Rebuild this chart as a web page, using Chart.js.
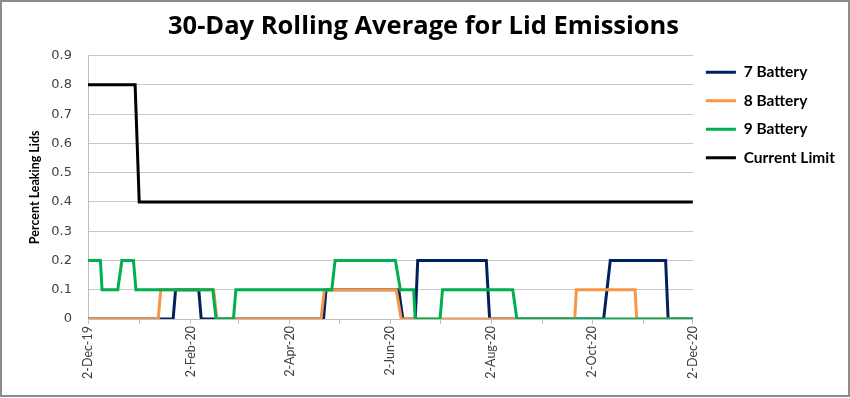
<!DOCTYPE html>
<html>
<head>
<meta charset="utf-8">
<title>30-Day Rolling Average for Lid Emissions</title>
<script src="https://cdn.jsdelivr.net/npm/chart.js@4.4.1/dist/chart.umd.min.js"></script>
<style>
    body { margin: 0; background: #ffffff; }
    .chart-frame {
        position: absolute;
        left: 0;
        top: 0;
        width: 846px;
        height: 393px;
        border: 2px solid #8c8c8c;
        background: #ffffff;
    }
    canvas { display: block; }
</style>
</head>
<body>
<div class="chart-frame">
    <canvas id="lidChart" width="846" height="393"></canvas>
</div>
<script>
// Days counted from 2-Dec-19 (x axis), values are fraction of leaking lids

// Tick positions: first of each month step, labels every other month
const tickDays = [0, 31, 62, 91, 122, 152, 183, 213, 244, 275, 305, 336, 366];
const tickLabels = ['2-Dec-19', '', '2-Feb-20', '', '2-Apr-20', '', '2-Jun-20', '', '2-Aug-20', '', '2-Oct-20', '', '2-Dec-20'];

// 7 Battery
const battery7Days = [0, 51.5, 53, 67, 68.5, 142.5, 144, 188, 190.5, 198, 199.5, 241, 243, 312, 316, 349.5, 351, 366];
const battery7Values = [0, 0, 0.1, 0.1, 0, 0, 0.1, 0.1, 0, 0, 0.2, 0.2, 0, 0, 0.2, 0.2, 0, 0];

// 8 Battery
const battery8Days = [0, 42.5, 44, 76, 78, 141, 143, 186.5, 189.5, 294.5, 295.5, 331, 332, 366];
const battery8Values = [0, 0, 0.1, 0.1, 0, 0, 0.1, 0.1, 0, 0, 0.1, 0.1, 0, 0];

// 9 Battery
const battery9Days = [0, 7.5, 8.5, 18, 20.5, 27.5, 29, 75.5, 77.5, 88, 89.5, 147.5, 149.5, 186, 189, 197, 198, 213, 214.5, 257, 259.5, 366];
const battery9Values = [0.2, 0.2, 0.1, 0.1, 0.2, 0.2, 0.1, 0.1, 0, 0, 0.1, 0.1, 0.2, 0.2, 0.1, 0.1, 0, 0, 0.1, 0.1, 0, 0];

// Current Limit
const limitDays = [0, 28.5, 31, 366];
const limitValues = [0.8, 0.8, 0.4, 0.4];

// Y axis ticks
const yMin = 0;
const yMax = 0.9;
const yStep = 0.1;

document.addEventListener('DOMContentLoaded', function() {
    initializeLidChart();
});

// Pair up day and value arrays into points for the line datasets
function toPoints(days, values) {
    return days.map(function(day, i) {
        return { x: day, y: values[i] };
    });
}

// Small plugin to lift the legend so it sits level with the top rows
const legendNudge = {
    id: 'legendNudge',
    afterLayout: function(chart) {
        if (chart.legend) {
            chart.legend.top -= 4;
        }
    }
};

function initializeLidChart() {
    const ctx = document.getElementById('lidChart');
    if (!ctx) {
        return;
    }

    const lineDefaults = {
        borderWidth: 3,
        pointRadius: 0,
        pointHoverRadius: 0,
        tension: 0,
        fill: false
    };

    const lidData = {
        datasets: [
            Object.assign({
                label: '7 Battery',
                data: toPoints(battery7Days, battery7Values),
                borderColor: '#002060',
                backgroundColor: '#002060',
                order: 3
            }, lineDefaults),
            Object.assign({
                label: '8 Battery',
                data: toPoints(battery8Days, battery8Values),
                borderColor: '#F79646',
                backgroundColor: '#F79646',
                order: 2
            }, lineDefaults),
            Object.assign({
                label: '9 Battery',
                data: toPoints(battery9Days, battery9Values),
                borderColor: '#00B050',
                backgroundColor: '#00B050',
                order: 1
            }, lineDefaults),
            Object.assign({
                label: 'Current Limit',
                data: toPoints(limitDays, limitValues),
                borderColor: '#000000',
                backgroundColor: '#000000',
                order: 4
            }, lineDefaults)
        ]
    };

    const lidChart = new Chart(ctx, {
        type: 'line',
        data: lidData,
        plugins: [legendNudge],
        options: {
            responsive: false,
            animation: false,
            layout: {
                padding: { left: 0, right: 3, top: 0, bottom: 0 }
            },
            scales: {
                x: {
                    type: 'linear',
                    min: tickDays[0],
                    max: tickDays[tickDays.length - 1],
                    afterBuildTicks: function(scale) {
                        scale.ticks = tickDays.map(function(d) { return { value: d }; });
                    },
                    afterFit: function(scale) {
                        scale.height = 76;
                    },
                    ticks: {
                        autoSkip: false,
                        minRotation: 90,
                        maxRotation: 90,
                        padding: 2,
                        color: '#404040',
                        font: { family: 'Lato', size: 12.5 },
                        callback: function(value) {
                            const idx = tickDays.indexOf(value);
                            return idx >= 0 ? tickLabels[idx] : '';
                        }
                    },
                    grid: {
                        drawOnChartArea: false,
                        drawTicks: true,
                        tickLength: 5,
                        color: '#bfbfbf'
                    },
                    border: { color: '#bfbfbf' }
                },
                y: {
                    min: yMin,
                    max: yMax,
                    afterFit: function(scale) {
                        scale.width = 86;
                    },
                    ticks: {
                        stepSize: yStep,
                        padding: 16,
                        color: '#404040',
                        font: { family: 'DejaVu Sans', size: 13 },
                        callback: function(value) {
                            return value === 0 ? '0' : value.toFixed(1);
                        }
                    },
                    grid: {
                        color: '#c8c8c8',
                        drawTicks: false
                    },
                    border: { color: '#bfbfbf' },
                    title: {
                        display: true,
                        text: 'Percent Leaking Lids',
                        color: '#000000',
                        font: { family: 'Lato', size: 12.5, weight: 'bold' },
                        padding: { top: 25, bottom: 0 }
                    }
                }
            },
            plugins: {
                title: {
                    display: true,
                    text: '30-Day Rolling Average for Lid Emissions',
                    color: '#000000',
                    font: { family: 'Open Sans', size: 25.5, weight: 'bold' },
                    padding: { top: 9, bottom: 14 }
                },
                legend: {
                    display: true,
                    position: 'right',
                    align: 'start',
                    fullSize: false,
                    labels: {
                        usePointStyle: true,
                        pointStyle: 'line',
                        pointStyleWidth: 30,
                        padding: 13,
                        color: '#000000',
                        font: { family: 'Lato', size: 15.5, weight: 'bold' },
                        sort: function(a, b) {
                            return a.datasetIndex - b.datasetIndex;
                        }
                    }
                },
                tooltip: { enabled: false }
            }
        }
    });

    // Store chart instance in window for later updates
    window.lidChart = lidChart;
}
</script>
</body>
</html>
